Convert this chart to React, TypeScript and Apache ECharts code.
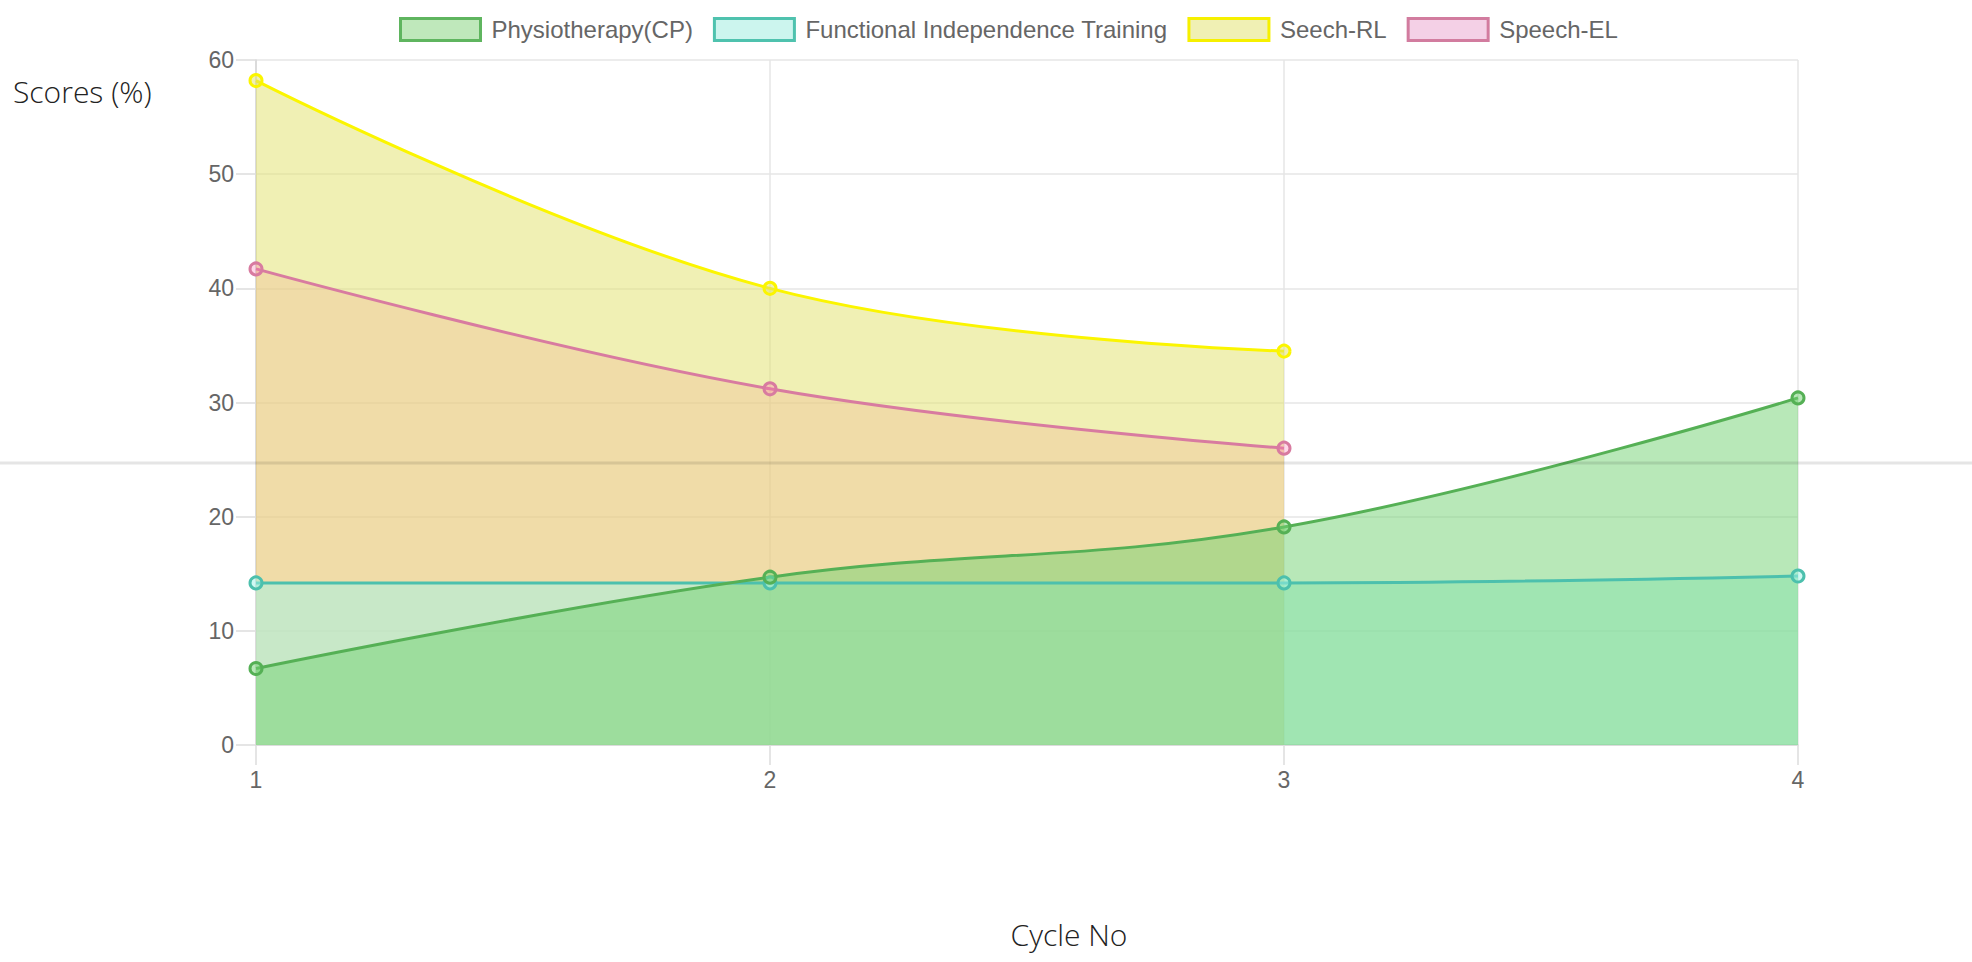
import React, { useEffect, useRef } from "react";
import * as echarts from "echarts";

const cycles = ["1", "2", "3", "4"];
const yTicks = [0, 10, 20, 30, 40, 50, 60];
const physio = [6.7, 14.7, 19.1, 30.4];
const fit = [14.2, 14.2, 14.2, 14.8];
const seechRL = [58.2, 40.0, 34.5, null];
const speechEL = [41.7, 31.2, 26.0, null];

const names = ["Physiotherapy(CP)", "Functional Independence Training", "Seech-RL", "Speech-EL"];

export default function App() {
  const ref = useRef<HTMLDivElement>(null);
  useEffect(() => {
    const chart = echarts.init(ref.current!, null, { renderer: "svg" });
    const font = "'Liberation Sans', Arial, sans-serif";
    const mk = (name: string, data: any[], line: string, fill: string) => ({
      name,
      type: "line",
      data,
      smooth: 0.4,
      symbol: "circle",
      symbolSize: 12,
      showSymbol: true,
      lineStyle: { color: line, width: 3 },
      itemStyle: { color: fill, borderColor: line, borderWidth: 3 },
      areaStyle: { color: fill, origin: "start", opacity: 1 },
      emphasis: { disabled: true },
    });
    chart.setOption({
      animation: false,
      legend: {
        left: 394,
        top: 12,
        icon: "rect",
        itemWidth: 80,
        itemHeight: 22,
        itemGap: 20,
        textStyle: { fontFamily: font, fontSize: 24, color: "#666", padding: [0, 0, 0, 6] },
        data: [
          { name: names[0], itemStyle: { color: "rgb(191,232,187)", borderColor: "#5fb55f", borderWidth: 3 } },
          { name: names[1], itemStyle: { color: "rgb(204,245,238)", borderColor: "#4fc2ae", borderWidth: 3 } },
          { name: names[2], itemStyle: { color: "rgb(240,240,180)", borderColor: "#f6f000", borderWidth: 3 } },
          { name: names[3], itemStyle: { color: "rgb(244,208,230)", borderColor: "#d27c9f", borderWidth: 3 } },
        ],
      },
      grid: { left: 256, right: 174, top: 60, bottom: 217 },
      xAxis: {
        type: "category",
        data: cycles,
        boundaryGap: false,
        axisLine: { lineStyle: { color: "#d6d6d6", width: 1.5 } },
        axisTick: { show: true, length: 20, lineStyle: { color: "#dcdcdc", width: 1.5 } },
        axisLabel: { fontFamily: font, fontSize: 23, color: "#666", margin: 23 },
        splitLine: { show: true, lineStyle: { color: "#e6e6e6", width: 1.5 } },
      },
      yAxis: {
        type: "value",
        min: yTicks[0],
        max: yTicks[yTicks.length - 1],
        interval: 10,
        axisLine: { show: true, lineStyle: { color: "#d6d6d6", width: 1.5 } },
        axisTick: { show: true, length: 20, lineStyle: { color: "#dcdcdc", width: 1.5 } },
        axisLabel: { fontFamily: font, fontSize: 23, color: "#666", margin: 22 },
        splitLine: { show: true, lineStyle: { color: "#e6e6e6", width: 1.5 } },
      },
      series: [
        mk(names[3], speechEL, "#d87ba0", "rgba(255,122,175,0.3)"),
        mk(names[2], seechRL, "#fbf500", "rgba(225,225,105,0.5)"),
        mk(names[1], fit, "#4cc0ad", "rgba(160,244,232,0.5)"),
        mk(names[0], physio, "#55b055", "rgba(113,209,113,0.5)"),
      ],
      graphic: [
        {
          type: "line",
          z: 100,
          shape: { x1: 0, y1: 463, x2: 1972, y2: 463 },
          style: { stroke: "rgba(0,0,0,0.1)", lineWidth: 3 },
          silent: true,
        },
        {
          type: "text",
          left: 13,
          top: 76,
          style: { text: "Scores (%)", fontFamily: "'Open Sans', sans-serif", fontWeight: 300, fontSize: 30, fill: "#222" },
        },
        {
          type: "text",
          x: 1069,
          y: 934,
          style: {
            text: "Cycle No",
            fontFamily: "'Open Sans', sans-serif",
            fontWeight: 300,
            fontSize: 30,
            fill: "#222",
            textAlign: "center",
            textVerticalAlign: "middle",
          },
        },
      ],
    });
    return () => chart.dispose();
  }, []);
  return (
    <div
      ref={ref}
      style={{ position: "absolute", left: 0, top: 0, width: 1972, height: 962, background: "#fff" }}
    />
  );
}
